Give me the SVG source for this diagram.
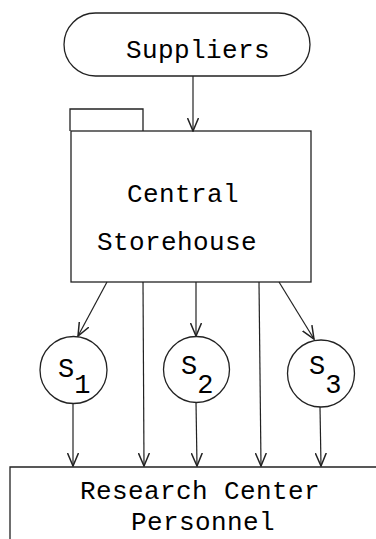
<svg xmlns="http://www.w3.org/2000/svg" width="376" height="539" viewBox="0 0 376 539">
<style>
.shape{fill:none;stroke:#222;stroke-width:1.3}
.line{fill:none;stroke:#222;stroke-width:1.2}
.t{font-family:"Liberation Mono","DejaVu Sans Mono",monospace;font-size:26px;letter-spacing:0.4px;fill:#000}
.s{font-family:"Liberation Mono","DejaVu Sans Mono",monospace;font-size:27px;fill:#000}
</style>
<defs>
<marker id="arr" viewBox="0 0 14 12" refX="13" refY="6" markerWidth="14" markerHeight="12" markerUnits="userSpaceOnUse" orient="auto">
<path d="M0,0.5 L13,6 L0,11.5" fill="none" stroke="#222" stroke-width="1.5"/>
</marker>
</defs>
<rect width="376" height="539" fill="#fff"/>
<g id="suppliers">
<rect class="shape" x="64" y="13" width="246" height="63" rx="31.5" ry="31.5"/>
<text class="t" x="126" y="58">Suppliers</text>
</g>
<g id="central-storehouse">
<path class="shape" d="M70,131 V109 H143 V131"/>
<rect class="shape" x="71" y="131" width="240" height="151"/>
<text class="t" x="127" y="202">Central</text>
<text class="t" x="97" y="250">Storehouse</text>
</g>
<g id="s1">
<circle class="shape" cx="73.5" cy="370" r="33.5"/>
<text class="s" x="58" y="377">S<tspan dy="16">1</tspan></text>
</g>
<g id="s2">
<circle class="shape" cx="196.5" cy="369.5" r="33"/>
<text class="s" x="181" y="374">S<tspan dy="19">2</tspan></text>
</g>
<g id="s3">
<circle class="shape" cx="321" cy="373.5" r="33.5"/>
<text class="s" x="309" y="374">S<tspan dy="19">3</tspan></text>
</g>
<g id="research-center-personnel">
<path class="shape" d="M377,467 H10 V540"/>
<text class="t" x="80" y="499">Research Center</text>
<text class="t" x="131" y="530">Personnel</text>
</g>
<g id="connectors">
<line class="line" x1="193" y1="76" x2="193" y2="131" marker-end="url(#arr)"/>
<line class="line" x1="107" y1="282" x2="78" y2="336" marker-end="url(#arr)"/>
<line class="line" x1="196" y1="282" x2="196" y2="336" marker-end="url(#arr)"/>
<line class="line" x1="279" y1="282" x2="314" y2="339" marker-end="url(#arr)"/>
<line class="line" x1="143" y1="282" x2="144" y2="466" marker-end="url(#arr)"/>
<line class="line" x1="259" y1="282" x2="261" y2="466" marker-end="url(#arr)"/>
<line class="line" x1="73" y1="403" x2="73" y2="466" marker-end="url(#arr)"/>
<line class="line" x1="196" y1="402" x2="197" y2="466" marker-end="url(#arr)"/>
<line class="line" x1="320" y1="407" x2="321" y2="466" marker-end="url(#arr)"/>
</g>
</svg>
